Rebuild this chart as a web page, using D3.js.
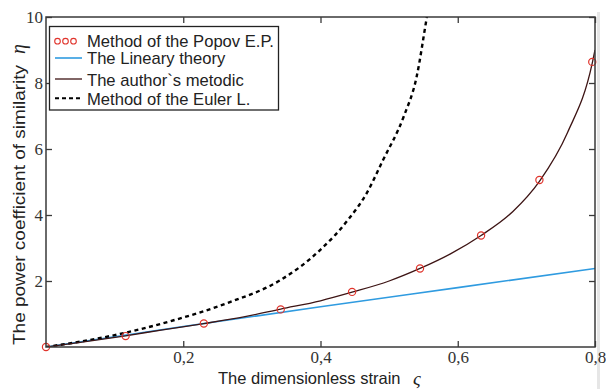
<!DOCTYPE html>
<html>
<head>
<meta charset="utf-8">
<script src="https://cdn.jsdelivr.net/npm/d3@7"></script>
<style>
  body { margin: 0; background: #fff; }
  svg { display: block; }
  .serif { font-family: "Liberation Serif", "DejaVu Serif", serif; }
</style>
</head>
<body>
<div id="chart"></div>
<script>
// values (strain ζ -> coefficient η)
const popovX = [0, 0.116, 0.230, 0.342, 0.446, 0.545, 0.634, 0.719, 0.796]
const popovY = [0, 0.33, 0.71, 1.14, 1.67, 2.38, 3.38, 5.06, 8.64]

const linearX = [0, 0.2, 0.4, 0.6, 0.8]
const linearY = [0, 0.62, 1.22, 1.80, 2.38]

const authorX = [0, 0.05, 0.116, 0.17, 0.230, 0.29, 0.342, 0.40, 0.446, 0.50, 0.545, 0.59, 0.634, 0.68, 0.719, 0.76, 0.796, 0.80]
const authorY = [0, 0.14, 0.34, 0.52, 0.71, 0.92, 1.15, 1.40, 1.66, 2.00, 2.38, 2.83, 3.38, 4.10, 5.02, 6.50, 8.60, 9.00]

const eulerX = [0, 0.1, 0.186, 0.268, 0.341, 0.399, 0.44, 0.467, 0.491, 0.521, 0.540, 0.555, 0.565]
const eulerY = [0, 0.36, 0.81, 1.36, 2.02, 2.93, 3.85, 4.65, 5.66, 6.97, 8.18, 10.0, 11.2]

const xTicks = [0.2, 0.4, 0.6, 0.8]
const yTicks = [2, 4, 6, 8, 10]

const legendLabels = ["Method of the Popov E.P.", "The Lineary theory", "The author`s metodic", "Method of the Euler L."]

const width = 606
const height = 389
const marginLeft = 46
const marginRight = 11       // right edge of the box at 595
const marginTop = 17
const marginBottom = 42      // bottom edge of the box at 347

const sans = "'Liberation Sans', Arial, sans-serif"
const axisColor = "#3a3a3a"

const x = d3.scaleLinear([0, 0.8], [marginLeft, width - marginRight])
const y = d3.scaleLinear([0, 10], [height - marginBottom, marginTop])

const svg = d3.select("#chart")
    .append("svg")
    .attr("width", width)
    .attr("height", height)
    .attr("viewBox", [0, 0, width, height])

// faint grey strip at the right edge of the scan
svg.append("rect")
    .attr("x", 597).attr("y", 12)
    .attr("width", 3).attr("height", height - 12)
    .attr("fill", "#e6e6e6")

svg.append("clipPath").attr("id", "plot-clip")
    .append("rect")
    .attr("x", marginLeft).attr("y", marginTop)
    .attr("width", width - marginLeft - marginRight)
    .attr("height", height - marginTop - marginBottom)

const commaFmt = d => d3.format(".1f")(d).replace(".", ",")

const styleTicks = g => {
    g.attr("font-family", null).attr("font-size", null)
    g.select(".domain").remove()
    g.selectAll(".tick line").attr("stroke", axisColor).attr("stroke-width", 1.3)
    g.selectAll(".tick text")
        .attr("class", "serif")
        .style("font-size", "17px")
        .attr("fill", "#333")
}

// bottom axis with labels
svg.append("g")
    .attr("transform", `translate(0,${height - marginBottom})`)
    .call(d3.axisBottom(x).tickValues(xTicks).tickFormat(commaFmt).tickSize(-6).tickPadding(4))
    .call(styleTicks)

// top axis, ticks only
svg.append("g")
    .attr("transform", `translate(0,${marginTop})`)
    .call(d3.axisTop(x).tickValues(xTicks).tickFormat("").tickSize(-6))
    .call(styleTicks)

// left axis with labels
svg.append("g")
    .attr("transform", `translate(${marginLeft},0)`)
    .call(d3.axisLeft(y).tickValues(yTicks).tickFormat(d3.format("d")).tickSize(-6).tickPadding(3))
    .call(styleTicks)

// right axis, ticks only
svg.append("g")
    .attr("transform", `translate(${width - marginRight},0)`)
    .call(d3.axisRight(y).tickValues(yTicks).tickFormat("").tickSize(-6))
    .call(styleTicks)

// curves
const line = d3.line()
    .x(d => x(d[0]))
    .y(d => y(d[1]))
    .curve(d3.curveMonotoneX)

const plot = svg.append("g").attr("clip-path", "url(#plot-clip)")

plot.append("path")
    .attr("d", line(d3.zip(linearX, linearY)))
    .attr("fill", "none")
    .attr("stroke", "#2f9be0")
    .attr("stroke-width", 1.6)

plot.append("path")
    .attr("d", line(d3.zip(eulerX, eulerY)))
    .attr("fill", "none")
    .attr("stroke", "#000")
    .attr("stroke-width", 2.4)
    .attr("stroke-dasharray", "4,3.5")

plot.append("path")
    .attr("d", line(d3.zip(authorX, authorY)))
    .attr("fill", "none")
    .attr("stroke", "#3d1414")
    .attr("stroke-width", 1.3)

svg.append("g")
    .selectAll("circle")
    .data(d3.zip(popovX, popovY))
    .join("circle")
    .attr("cx", d => x(d[0]))
    .attr("cy", d => y(d[1]))
    .attr("r", 3.6)
    .attr("fill", "none")
    .attr("stroke", "#e0342c")
    .attr("stroke-width", 1.2)

// frame
svg.append("rect")
    .attr("x", marginLeft).attr("y", marginTop)
    .attr("width", width - marginLeft - marginRight)
    .attr("height", height - marginTop - marginBottom)
    .attr("fill", "none")
    .attr("stroke", axisColor)
    .attr("stroke-width", 1.5)

// legend
const legend = svg.append("g")
legend.append("rect")
    .attr("x", 49.5).attr("y", 26.5)
    .attr("width", 229).attr("height", 83.5)
    .attr("fill", "#fff")
    .attr("stroke", "#222")
    .attr("stroke-width", 1.3)

const baselines = [46.7, 64, 86, 105.3]
const lx0 = 55, lx1 = 82

legend.selectAll("text")
    .data(legendLabels)
    .join("text")
    .attr("x", 87)
    .attr("y", (d, i) => baselines[i])
    .style("font-family", sans)
    .style("font-size", "16.6px")
    .attr("fill", "#222")
    .text(d => d)

legend.selectAll("circle")
    .data([57.5, 65.5, 73.5])
    .join("circle")
    .attr("cx", d => d)
    .attr("cy", baselines[0] - 5.5)
    .attr("r", 2.8)
    .attr("fill", "none")
    .attr("stroke", "#e0342c")
    .attr("stroke-width", 1.1)

legend.append("line")
    .attr("x1", lx0).attr("x2", lx1)
    .attr("y1", baselines[1] - 6).attr("y2", baselines[1] - 6)
    .attr("stroke", "#2f9be0").attr("stroke-width", 1.6)

legend.append("line")
    .attr("x1", lx0).attr("x2", lx1)
    .attr("y1", baselines[2] - 7).attr("y2", baselines[2] - 7)
    .attr("stroke", "#3d1414").attr("stroke-width", 1.3)

legend.append("line")
    .attr("x1", lx0).attr("x2", lx1)
    .attr("y1", baselines[3] - 7).attr("y2", baselines[3] - 7)
    .attr("stroke", "#000").attr("stroke-width", 2)
    .attr("stroke-dasharray", "4,3")

// axis titles
svg.append("text")
    .attr("x", 218)
    .attr("y", 384)
    .style("font-family", sans)
    .style("font-size", "16.5px")
    .attr("fill", "#222")
    .text("The dimensionless strain")
svg.append("text")
    .attr("class", "serif")
    .attr("x", 413)
    .attr("y", 385)
    .style("font-style", "italic")
    .style("font-size", "19px")
    .attr("fill", "#222")
    .text("ς")

svg.append("text")
    .attr("transform", "translate(25,345) rotate(-90)")
    .attr("textLength", 280)
    .attr("lengthAdjust", "spacingAndGlyphs")
    .style("font-family", sans)
    .style("font-size", "16.5px")
    .attr("fill", "#222")
    .text("The power coefficient of similarity")
svg.append("text")
    .attr("class", "serif")
    .attr("transform", "translate(25,54) rotate(-90)")
    .style("font-style", "italic")
    .style("font-size", "20px")
    .attr("fill", "#222")
    .text("η")
</script>
</body>
</html>
